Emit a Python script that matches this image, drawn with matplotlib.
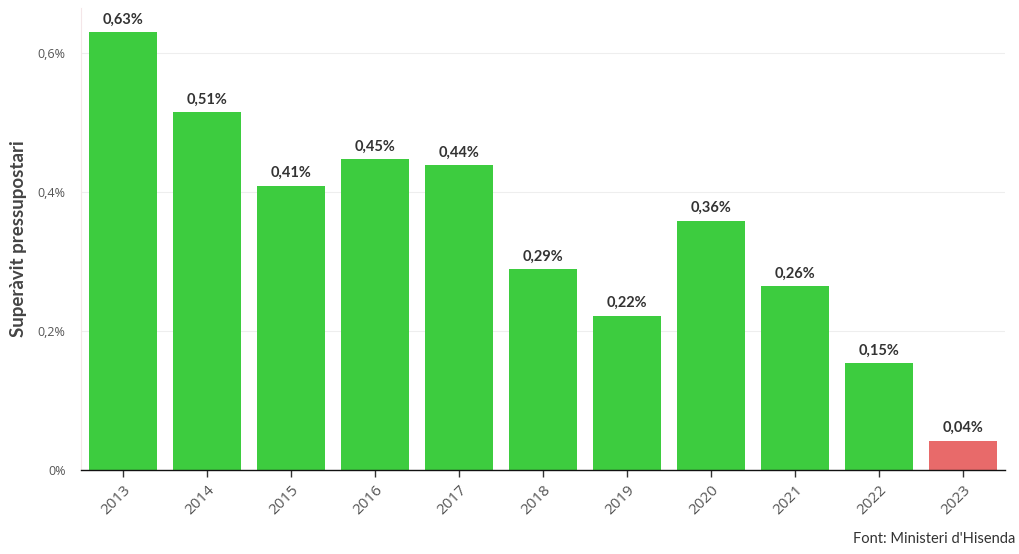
import matplotlib.pyplot as plt

years = ['2013', '2014', '2015', '2016', '2017', '2018', '2019', '2020', '2021', '2022', '2023']
surplus = [0.630, 0.515, 0.409, 0.447, 0.439, 0.289, 0.222, 0.359, 0.265, 0.154, 0.042]
bar_labels = ['0,63%', '0,51%', '0,41%', '0,45%', '0,44%', '0,29%', '0,22%', '0,36%', '0,26%', '0,15%', '0,04%']
yticks = [0, 0.2, 0.4, 0.6]
ytick_labels = ['0%', '0,2%', '0,4%', '0,6%']

green = '#3dcc3f'
red = '#e86a6a'
colors = [green] * (len(years) - 1) + [red]

fig = plt.figure(figsize=(10.2, 5.54), dpi=100)
ax = fig.add_axes([0.0794, 0.1516, 0.906, 0.834])

x = list(range(len(years)))
ax.bar(x, surplus, width=0.8, color=colors, zorder=2)

for xi, v, lab in zip(x, surplus, bar_labels):
    ax.annotate(lab, (xi, v), xytext=(0, 4), textcoords='offset points',
                ha='center', va='bottom', fontsize=10.5, fontweight='bold',
                color='#333333', family='Lato')

ax.set_xlim(-0.5, 10.5)
ax.set_ylim(0, 0.665)
ax.set_yticks(yticks)
ax.set_yticklabels(ytick_labels, family='Open Sans', fontsize=9, color='#555555')
ax.set_xticks(x)
ax.set_xticklabels(years, rotation=45, ha='right', rotation_mode='anchor',
                   family='Open Sans', fontsize=11, color='#555555')
ax.tick_params(axis='y', length=0, pad=11)
ax.tick_params(axis='x', length=5, width=1, color='#333333', pad=4)

ax.yaxis.grid(True, color='#eeeeee', linewidth=0.8, zorder=0)
ax.set_axisbelow(True)
for s in ['top', 'right']:
    ax.spines[s].set_visible(False)
ax.spines['left'].set_color('#f4e6e8')
ax.spines['left'].set_linewidth(0.8)
ax.spines['bottom'].set_color('#111111')
ax.spines['bottom'].set_linewidth(1)

ax.set_ylabel('Superàvit pressupostari', family='Lato', fontsize=13.5,
              fontweight='bold', color='#444444', labelpad=8)

fig.text(0.995, 0.015, "Font: Ministeri d'Hisenda", ha='right', va='bottom',
         family='Lato', fontsize=10.5, color='#333333')

fig.savefig('out.png', dpi=100)
